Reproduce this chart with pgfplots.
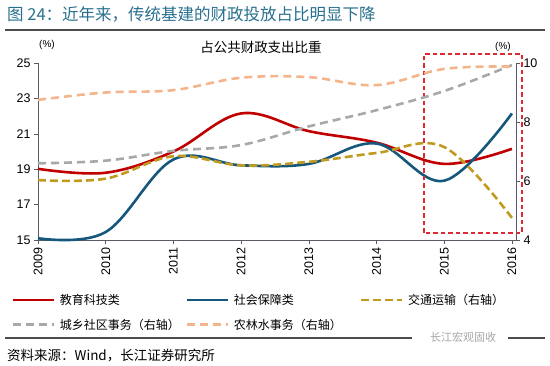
\documentclass[border=0pt]{standalone}
\usepackage{fontspec}
\setmainfont{Liberation Sans}
\newfontfamily\cjk{Noto Sans CJK SC}
\usepackage{pgfplots}
\pgfplotsset{compat=1.18}
\definecolor{cRed}{RGB}{192,0,0}
\definecolor{cBlue}{RGB}{22,88,125}
\definecolor{cOlive}{RGB}{192,155,32}
\definecolor{cGray}{RGB}{168,168,168}
\definecolor{cPeach}{RGB}{244,180,140}
\definecolor{cTeal}{RGB}{40,112,142}
\definecolor{cBox}{RGB}{222,40,50}
\definecolor{cAxis}{RGB}{90,90,100}
\begin{document}
\begin{tikzpicture}[x=1pt,y=1pt]
\useasboundingbox (0,0) rectangle (550,365);
% title
\node[anchor=west,inner sep=0pt,text=cTeal,font=\fontsize{16.5}{18}\selectfont\cjk] at (7,351) {图 24：近年来，传统基建的财政投放占比明显下降};
\draw[black!70,line width=1.5pt] (5,335) -- (545,335);
% bottom rule with watermark
\draw[black!70,line width=1.2pt] (5,27) -- (412,27);
\draw[black!70,line width=1.2pt] (508,27) -- (545,27);
\node[anchor=west,inner sep=0pt,text=black!35,font=\fontsize{11}{13}\selectfont\cjk] at (430,28) {长江宏观固收};
\node[anchor=west,inner sep=0pt,font=\fontsize{13.5}{15}\selectfont\cjk] at (7,9) {资料来源：Wind，长江证券研究所};
% chart title and units
\node[inner sep=0pt,font=\fontsize{13.5}{15}\selectfont\cjk] at (261,318) {占公共财政支出比重};
\node[inner sep=0pt,font=\fontsize{10}{12}\selectfont] at (47,320) {(\%)};
\node[inner sep=0pt,font=\fontsize{10}{12}\selectfont] at (503,318) {(\%)};
\begin{axis}[
  at={(38pt,125pt)}, anchor=origin,
  scale only axis, width=478pt, height=177pt,
  xmin=2009, xmax=2016.06, ymin=15, ymax=25,
  axis x line*=bottom, axis y line*=left,
  axis line style={cAxis, line width=0.6pt},
  x axis line style={-}, y axis line style={-},
  xtick={2009,2010,2011,2012,2013,2014,2015,2016},
  xticklabels={2009,2010,2011,2012,2013,2014,2015,2016},
  x tick label style={rotate=90, anchor=east, font=\fontsize{12.5}{14}\selectfont},
  ytick={15,17,19,21,23,25},
  yticklabels={15,17,19,21,23,25},
  y tick label style={font=\fontsize{12.5}{14}\selectfont},
  tick style={cAxis, line width=0.6pt},
  tick align=outside, major tick length=4pt,
  xtick pos=bottom, ytick pos=left,
  clip=false,
]
\addplot[cRed, line width=2.6pt, smooth, tension=0.6] coordinates {
(2009,19.02) (2010,18.8) (2011,20.0) (2012,22.15) (2013,21.15) (2014,20.5) (2015,19.3) (2016,20.15)};
\addplot[cBlue, line width=2.6pt, smooth, tension=0.6] coordinates {
(2009,15.1) (2010,15.45) (2011,19.55) (2012,19.22) (2013,19.3) (2014,20.45) (2015,18.35) (2016,22.15)};
\draw[cBox, line width=1.5pt, dash pattern=on 4.5pt off 3pt] (axis cs:2014.7,15.4) rectangle (axis cs:2016.15,25.5);
\end{axis}
\begin{axis}[
  at={(38pt,125pt)}, anchor=origin,
  scale only axis, width=478pt, height=177pt,
  xmin=2009, xmax=2016.06, ymin=4, ymax=10,
  axis x line=none, axis y line*=right,
  axis line style={cAxis, line width=0.6pt},
  y axis line style={-},
  ytick={4,6,8,10},
  yticklabels={4,6,8,10},
  y tick label style={font=\fontsize{12.5}{14}\selectfont},
  tick style={cAxis, line width=0.6pt},
  tick align=outside, major tick length=4pt,
  ytick pos=right,
  clip=false,
  legend columns=3,
  legend cell align=left,
  legend style={draw=none, fill=none, at={(-0.056,-0.305)}, anchor=north west,
    inner sep=0pt, outer sep=0pt,
    font=\fontsize{12}{14}\selectfont\cjk,
    /tikz/every odd column/.append style={column sep=5pt},
    row sep=13pt,
    nodes={inner sep=0pt, text width=125.5pt, anchor=west}},
  legend image code/.code={\draw[#1] (0pt,0pt) -- (41pt,0pt);},
]
\addlegendimage{cRed, line width=2.6pt}
\addlegendentry{教育科技类}
\addlegendimage{cBlue, line width=2.6pt}
\addlegendentry{社会保障类}
\addplot[cOlive, line width=2.6pt, dash pattern=on 8pt off 4pt, smooth, tension=0.6] coordinates {
(2009,6.03) (2010,6.08) (2011,6.84) (2012,6.53) (2013,6.65) (2014,6.95) (2015,7.15) (2016,4.75)};
\addlegendentry{交通运输（右轴）}
\addplot[cGray, line width=2.6pt, dash pattern=on 8pt off 5pt, smooth, tension=0.6] coordinates {
(2009,6.6) (2010,6.69) (2011,7.02) (2012,7.22) (2013,7.85) (2014,8.4) (2015,9.05) (2016,9.93)};
\addlegendentry{城乡社区事务（右轴）}
\addplot[cPeach, line width=2.6pt, dash pattern=on 8pt off 5pt, smooth, tension=0.6] coordinates {
(2009,8.75) (2010,9.0) (2011,9.08) (2012,9.5) (2013,9.52) (2014,9.25) (2015,9.8) (2016,9.88)};
\addlegendentry{农林水事务（右轴）}
\end{axis}
\end{tikzpicture}
\end{document}
